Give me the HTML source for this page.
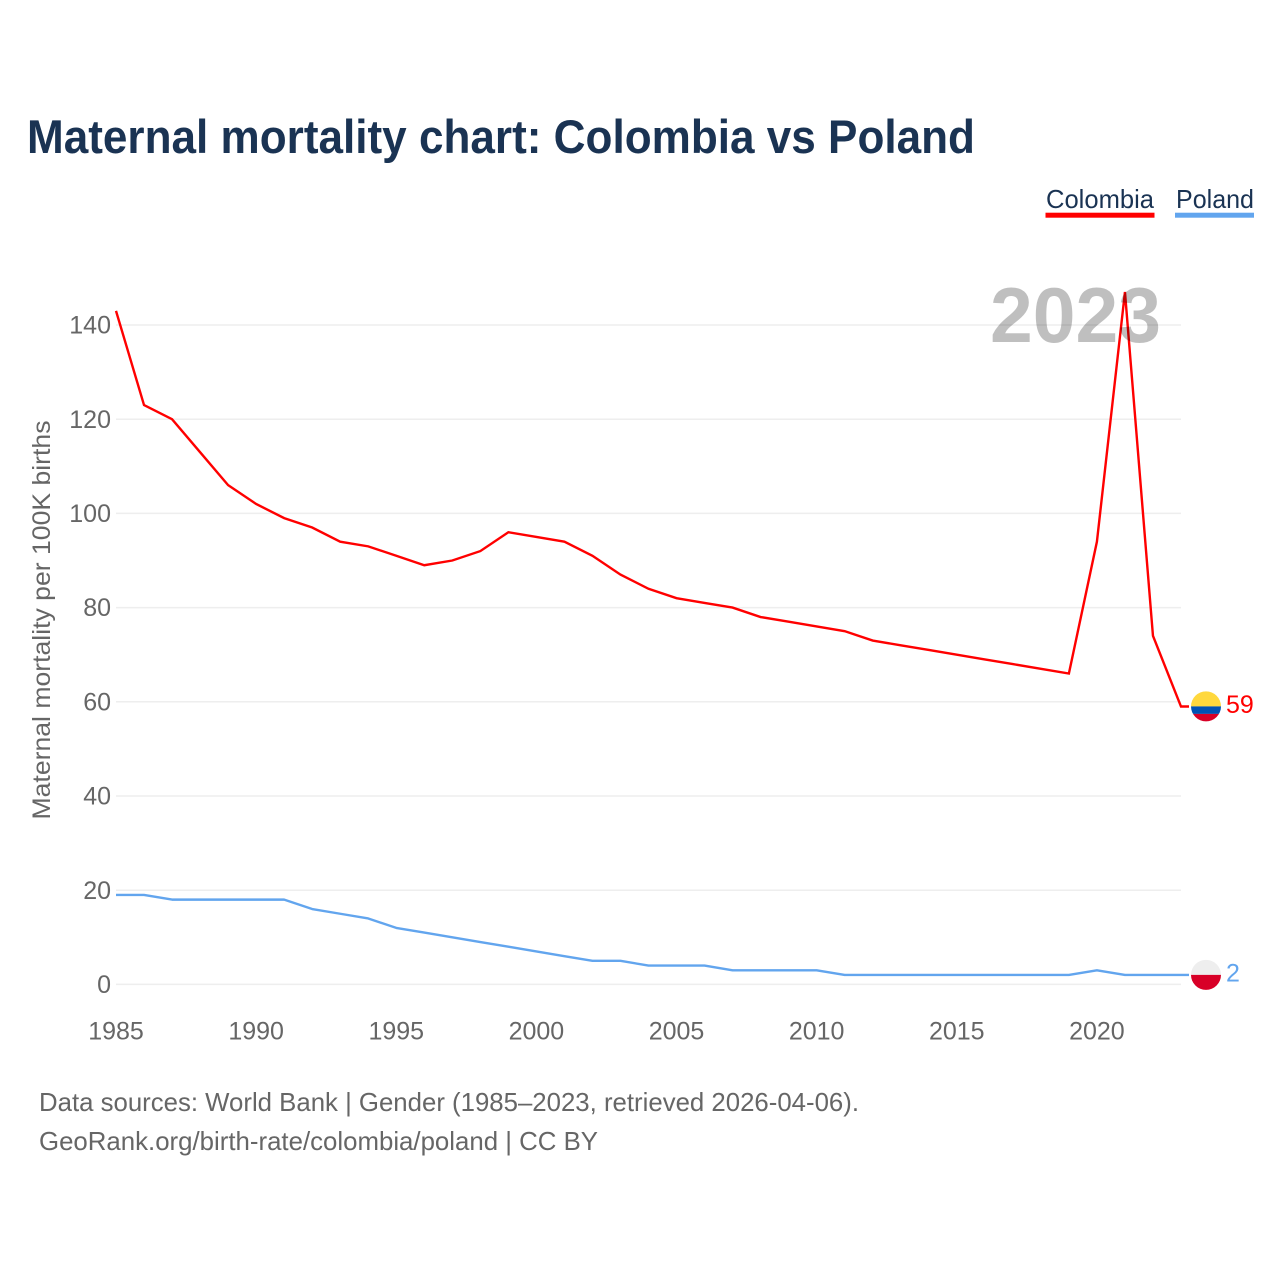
<!DOCTYPE html>
<html lang="en">
<head>
<meta charset="utf-8">
<title>Maternal mortality chart: Colombia vs Poland</title>
<style>
html,body{margin:0;padding:0;background:#fff;width:1280px;height:1280px;overflow:hidden}
svg{display:block}
text{font-family:"Liberation Sans",sans-serif}
.tick{font-size:25px;fill:#666}
</style>
</head>
<body>
<svg xmlns="http://www.w3.org/2000/svg" width="1280" height="1280" viewBox="0 0 1280 1280">
  <defs>
    <clipPath id="flag-clip"><circle cx="0" cy="0" r="15"/></clipPath>
  </defs>
  <rect width="1280" height="1280" fill="#fff"/>
  <text x="27" y="153" font-size="47" font-weight="700" fill="#1a3353" textLength="948" lengthAdjust="spacingAndGlyphs">Maternal mortality chart: Colombia vs Poland</text>

  <g>
    <text x="1046" y="208" font-size="26" fill="#1a3353" textLength="108" lengthAdjust="spacingAndGlyphs">Colombia</text>
    <rect x="1045.5" y="212.7" width="109" height="5" fill="#ff0000"/>
  </g>
  <g>
    <text x="1176" y="208" font-size="26" fill="#1a3353" textLength="78" lengthAdjust="spacingAndGlyphs">Poland</text>
    <rect x="1175" y="212.7" width="79" height="5" fill="#62a5ee"/>
  </g>

  <g id="grid"></g>
  <g id="y-ticks"></g>
  <g id="x-ticks"></g>
  <text transform="translate(50 620) rotate(-90)" text-anchor="middle" font-size="25" fill="#666" textLength="399" lengthAdjust="spacingAndGlyphs">Maternal mortality per 100K births</text>

  <polyline id="line-poland" fill="none" stroke="#62a5ee" stroke-width="2.4" stroke-linejoin="round"/>
  <polyline id="line-colombia" fill="none" stroke="#ff0000" stroke-width="2.4" stroke-linejoin="miter"/>

  <g id="flag-colombia">
    <g clip-path="url(#flag-clip)">
      <rect x="-16" y="-16" width="32" height="16" fill="#ffd83d"/>
      <rect x="-16" y="0" width="32" height="7.5" fill="#0052b4"/>
      <rect x="-16" y="7.5" width="32" height="9" fill="#d80027"/>
    </g>
  </g>
  <g id="flag-poland">
    <g clip-path="url(#flag-clip)">
      <rect x="-16" y="-16" width="32" height="16" fill="#eeeeee"/>
      <rect x="-16" y="0" width="32" height="16" fill="#d80027"/>
    </g>
  </g>
  <text id="value-colombia" x="1226" font-size="25" fill="#ff0000"></text>
  <text id="value-poland" x="1226" font-size="25" fill="#62a5ee"></text>

  <text x="990" y="342" font-size="78" font-weight="700" fill="#000" fill-opacity="0.25" textLength="171" lengthAdjust="spacingAndGlyphs">2023</text>

  <text x="39" y="1111" font-size="26" fill="#666" textLength="820" lengthAdjust="spacingAndGlyphs">Data sources: World Bank | Gender (1985–2023, retrieved 2026-04-06).</text>
  <text x="39" y="1150" font-size="26" fill="#666" textLength="559" lengthAdjust="spacingAndGlyphs">GeoRank.org/birth-rate/colombia/poland | CC BY</text>

  <script>
    const years = [1985,1986,1987,1988,1989,1990,1991,1992,1993,1994,1995,1996,1997,1998,1999,2000,2001,2002,2003,2004,2005,2006,2007,2008,2009,2010,2011,2012,2013,2014,2015,2016,2017,2018,2019,2020,2021,2022,2023];
    const colombiaValues = [143,123,120,113,106,102,99,97,94,93,91,89,90,92,96,95,94,91,87,84,82,81,80,78,77,76,75,73,72,71,70,69,68,67,66,94,147,74,59];
    const polandValues = [19,19,18,18,18,18,18,16,15,14,12,11,10,9,8,7,6,5,5,4,4,4,3,3,3,3,2,2,2,2,2,2,2,2,2,3,2,2,2];
    const yTickValues = [0,20,40,60,80,100,120,140];
    const xTickValues = [1985,1990,1995,2000,2005,2010,2015,2020];

    const NS = 'http://www.w3.org/2000/svg';
    const xMinYear = 1985, xMaxYear = 2023, xLeft = 116, xRight = 1181;
    const yBase = 984.4, yPerUnit = 4.71;
    function xScale(year) { return xLeft + (year - xMinYear) * (xRight - xLeft) / (xMaxYear - xMinYear); }
    function yScale(value) { return yBase - value * yPerUnit; }

    const gridGroup = document.getElementById('grid');
    const yGroup = document.getElementById('y-ticks');
    const xGroup = document.getElementById('x-ticks');

    yTickValues.forEach(function (v) {
      const gridLine = document.createElementNS(NS, 'line');
      gridLine.setAttribute('x1', xLeft);
      gridLine.setAttribute('x2', xRight);
      gridLine.setAttribute('y1', yScale(v));
      gridLine.setAttribute('y2', yScale(v));
      gridLine.setAttribute('stroke', '#eeeeee');
      gridLine.setAttribute('stroke-width', '1.5');
      
      
      gridGroup.appendChild(gridLine);

      const label = document.createElementNS(NS, 'text');
      label.setAttribute('x', 111);
      label.setAttribute('y', yScale(v) + 8.6);
      label.setAttribute('text-anchor', 'end');
      label.setAttribute('class', 'tick');
      
      
      label.textContent = String(v);
      yGroup.appendChild(label);
    });

    xTickValues.forEach(function (year) {
      const label = document.createElementNS(NS, 'text');
      label.setAttribute('x', xScale(year));
      label.setAttribute('y', 1039.5);
      label.setAttribute('text-anchor', 'middle');
      label.setAttribute('class', 'tick');
      
      
      label.textContent = String(year);
      xGroup.appendChild(label);
    });

    function drawSeries(lineId, flagId, values) {
      const pts = values.map(function (v, i) { return xScale(years[i]).toFixed(2) + ',' + yScale(v).toFixed(2); });
      const last = values[values.length - 1];
      pts.push('1189,' + yScale(last).toFixed(2));
      document.getElementById(lineId).setAttribute('points', pts.join(' '));
      document.getElementById(flagId).setAttribute('transform', 'translate(1206 ' + (yScale(last) - 0.1).toFixed(2) + ')');
      return last;
    }

    const colombiaLast = drawSeries('line-colombia', 'flag-colombia', colombiaValues);
    const polandLast = drawSeries('line-poland', 'flag-poland', polandValues);

    const colombiaLabel = document.getElementById('value-colombia');
    colombiaLabel.setAttribute('y', yScale(colombiaLast) + 6.5);
    colombiaLabel.textContent = String(colombiaLast);
    const polandLabel = document.getElementById('value-poland');
    polandLabel.setAttribute('y', yScale(polandLast) + 6.5);
    polandLabel.textContent = String(polandLast);
  </script>
</svg>
</body>
</html>
